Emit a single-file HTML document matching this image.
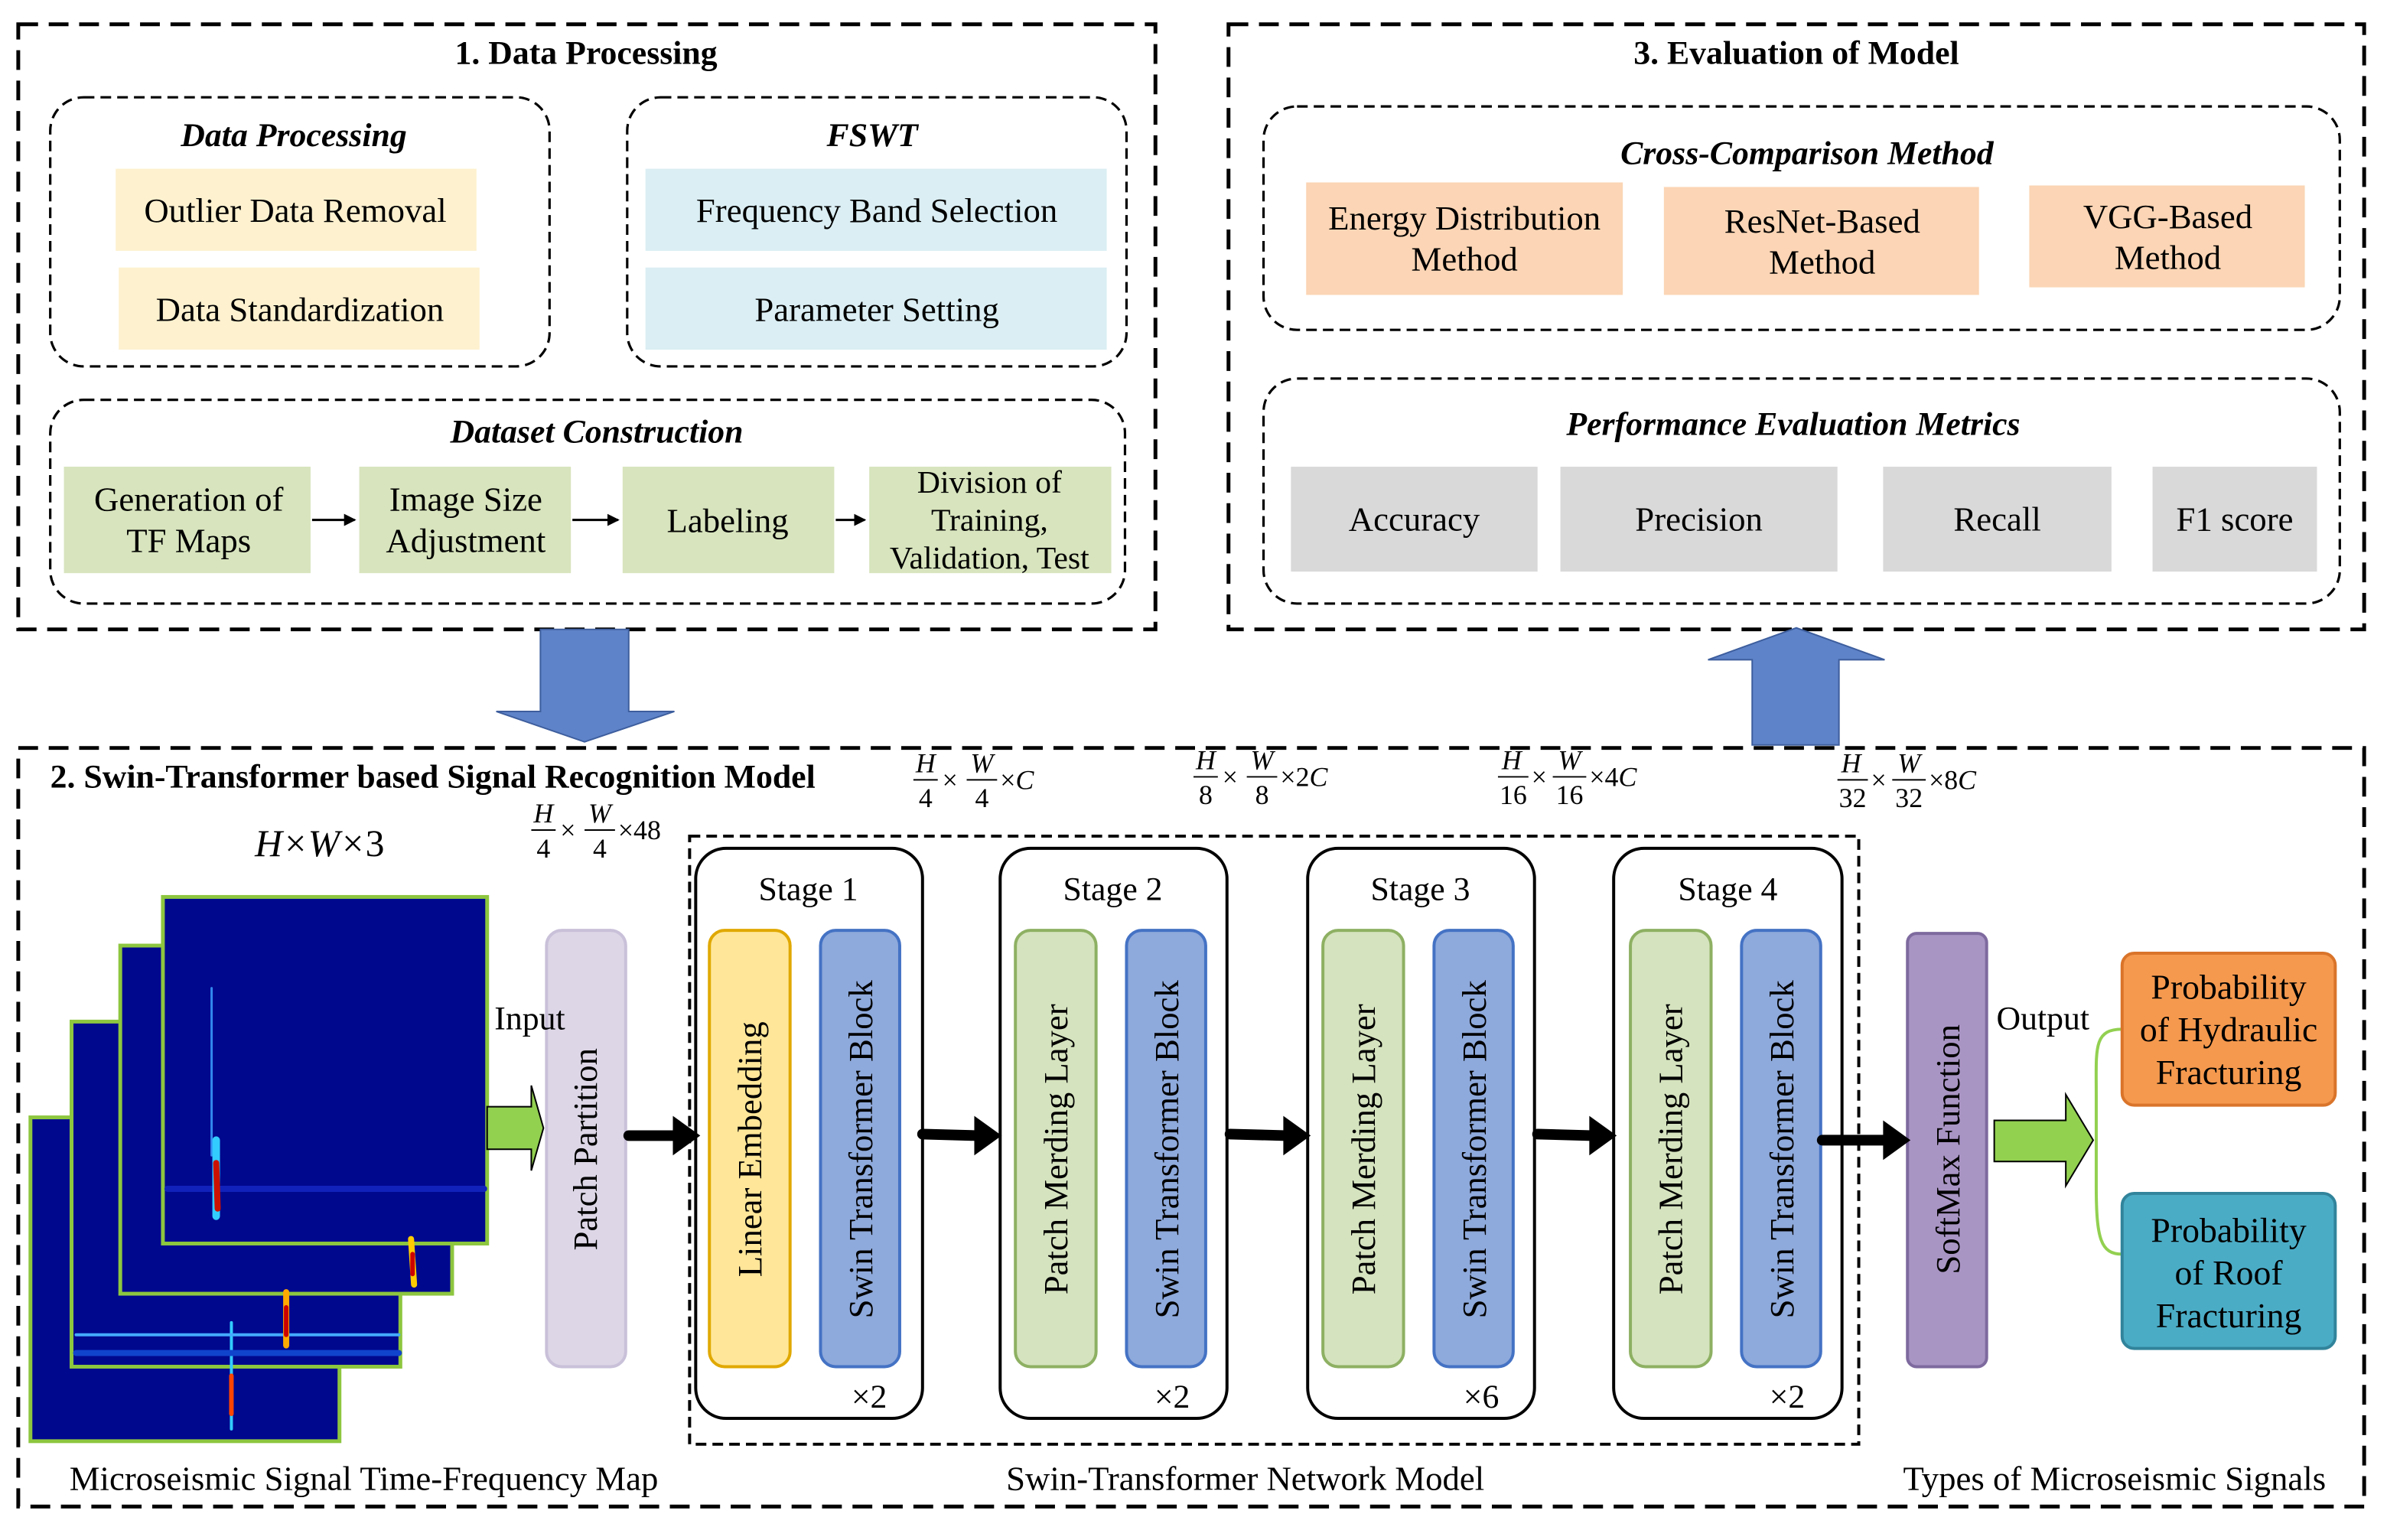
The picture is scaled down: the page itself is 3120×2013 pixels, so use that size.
<!DOCTYPE html>
<html><head><meta charset="utf-8"><style>html,body{margin:0;padding:0;background:#fff}svg{display:block}</style></head><body>
<svg width="3120" height="2013" viewBox="0 0 1568 1013" preserveAspectRatio="none" xmlns="http://www.w3.org/2000/svg" font-family="Liberation Serif, serif">
<defs>
<marker id="sa" markerWidth="8" markerHeight="8" refX="7" refY="4" orient="auto" markerUnits="userSpaceOnUse"><path d="M0,0 L8,4 L0,8 Z" fill="#000"/></marker>
</defs>
<g fill="none" stroke="#000" stroke-width="2.5" stroke-dasharray="13 7">
<rect x="12" y="16" width="747" height="398"/>
<rect x="807" y="16" width="746" height="398"/>
<rect x="12" y="492" width="1541" height="499"/>
</g>
<g fill="none" stroke="#000" stroke-width="1.6" stroke-dasharray="7 4">
<rect x="33" y="64" width="328" height="177" rx="22"/>
<rect x="412" y="64" width="328" height="177" rx="22"/>
<rect x="33" y="263" width="706" height="134" rx="22"/>
<rect x="830" y="70" width="707" height="147" rx="22"/>
<rect x="830" y="249" width="707" height="148" rx="22"/>
<rect x="453" y="550" width="768" height="400" stroke-width="2"/>
</g>
<g font-size="22" font-weight="bold" text-anchor="middle">
<text x="385" y="42">1.  Data Processing</text>
<text x="1180" y="42">3. Evaluation of Model</text>
<text x="33" y="518" text-anchor="start">2. Swin-Transformer based Signal Recognition Model</text>
</g>
<g font-size="22" font-weight="bold" font-style="italic" text-anchor="middle">
<text x="193" y="96">Data Processing</text>
<text x="573" y="96">FSWT</text>
<text x="392" y="291">Dataset Construction</text>
<text x="1187" y="108">Cross-Comparison Method</text>
<text x="1178" y="286">Performance Evaluation Metrics</text>
</g>
<g font-size="22.5" text-anchor="middle" fill="#000">
<rect x="76" y="111" width="237" height="54" fill="#FDF1CF"/><text x="194" y="146">Outlier Data Removal</text>
<rect x="78" y="176" width="237" height="54" fill="#FDF1CF"/><text x="197" y="211">Data Standardization</text>
<rect x="424" y="111" width="303" height="54" fill="#DAEEF3"/><text x="576" y="146">Frequency Band Selection</text>
<rect x="424" y="176" width="303" height="54" fill="#DAEEF3"/><text x="576" y="211">Parameter Setting</text>
<rect x="42" y="307" width="162" height="70" fill="#D7E4BD"/><text x="124" y="336">Generation of</text><text x="124" y="363">TF Maps</text>
<rect x="236" y="307" width="139" height="70" fill="#D7E4BD"/><text x="306" y="336">Image Size</text><text x="306" y="363">Adjustment</text>
<rect x="409" y="307" width="139" height="70" fill="#D7E4BD"/><text x="478" y="350">Labeling</text>
<rect x="571" y="307" width="159" height="70" fill="#D7E4BD"/><text x="650" y="324" font-size="21">Division of</text><text x="650" y="349" font-size="21">Training,</text><text x="650" y="374" font-size="21">Validation, Test</text>
<rect x="858" y="120" width="208" height="74" fill="#FBD5B5"/><text x="962" y="151">Energy Distribution</text><text x="962" y="178">Method</text>
<rect x="1093" y="123" width="207" height="71" fill="#FBD5B5"/><text x="1197" y="153">ResNet-Based</text><text x="1197" y="180">Method</text>
<rect x="1333" y="122" width="181" height="67" fill="#FBD5B5"/><text x="1424" y="150">VGG-Based</text><text x="1424" y="177">Method</text>
<rect x="848" y="307" width="162" height="69" fill="#D9D9D9"/><text x="929" y="349">Accuracy</text>
<rect x="1025" y="307" width="182" height="69" fill="#D9D9D9"/><text x="1116" y="349">Precision</text>
<rect x="1237" y="307" width="150" height="69" fill="#D9D9D9"/><text x="1312" y="349">Recall</text>
<rect x="1414" y="307" width="108" height="69" fill="#D9D9D9"/><text x="1468" y="349">F1 score</text>
</g>
<g stroke="#000" stroke-width="1.5">
<line x1="205" y1="342" x2="233" y2="342" marker-end="url(#sa)"/>
<line x1="376" y1="342" x2="406" y2="342" marker-end="url(#sa)"/>
<line x1="549" y1="342" x2="568" y2="342" marker-end="url(#sa)"/>
</g>
<path d="M355,414 L413,414 L413,468 L443,468 L384,488 L326,468 L355,468 Z" fill="#5F83C8" stroke="#3D5E9E" stroke-width="1"/>
<path d="M1151,490 L1208,490 L1208,434 L1238,434 L1180,413 L1122,434 L1151,434 Z" fill="#5F83C8" stroke="#3D5E9E" stroke-width="1"/>
<g stroke="#8DC63F" stroke-width="2.5" fill="#00088E">
<rect x="20" y="735" width="203" height="213"/>
<rect x="47" y="672" width="216" height="227"/>
<rect x="79" y="622" width="218" height="229"/>
<rect x="107" y="590" width="213" height="228"/>
</g>
<g fill="none" stroke-linecap="round">
<path d="M152,870 L152,940" stroke="#3cf" stroke-width="2"/><path d="M152,905 L152,930" stroke="#f40" stroke-width="3"/>
<path d="M50,878 L262,878" stroke="#4af" stroke-width="2"/><path d="M188,850 L188,885" stroke="#fa0" stroke-width="4"/><path d="M188,860 L188,878" stroke="#c00" stroke-width="3"/>
<path d="M50,890 L262,890" stroke="#14c" stroke-width="4"/>
<path d="M270,815 L272,845" stroke="#fc0" stroke-width="4"/><path d="M271,825 L271,838" stroke="#c00" stroke-width="3"/>
<path d="M110,782 L318,782" stroke="#12b" stroke-width="4"/>
<path d="M139,650 L139,760" stroke="#38e" stroke-width="1.5"/><path d="M142,750 L142,800" stroke="#3cf" stroke-width="5"/><path d="M142,765 L143,795" stroke="#c10" stroke-width="4"/>
</g>
<path d="M320,728 L349,728 L349,714 L357,742 L349,770 L349,756 L320,756 Z" fill="#92D050" stroke="#000" stroke-width="1"/>
<path d="M1310,737 L1357,737 L1357,720 L1375,750 L1357,780 L1357,764 L1310,764 Z" fill="#92D050" stroke="#000" stroke-width="1"/>
<rect x="359" y="612" width="52" height="287" rx="10" fill="#DCD6E6" stroke="#C9C0D9" stroke-width="2"/>
<text x="348" y="677" font-size="22" text-anchor="middle">Input</text>
<text x="1342" y="677" font-size="22" text-anchor="middle">Output</text>
<text x="210" y="563" font-size="25" font-style="italic" text-anchor="middle">H×W×<tspan font-style="normal">3</tspan></text>
<text transform="translate(392,756) rotate(-90)" font-size="22.5" text-anchor="middle">Patch Partition</text>
<g fill="#fff" stroke="#000" stroke-width="2">
<rect x="457" y="558" width="149" height="375" rx="20"/>
<rect x="657" y="558" width="149" height="375" rx="20"/>
<rect x="859" y="558" width="149" height="375" rx="20"/>
<rect x="1060" y="558" width="150" height="375" rx="20"/>
</g>
<g font-size="22" text-anchor="middle">
<text x="531" y="592">Stage 1</text><text x="731" y="592">Stage 2</text><text x="933" y="592">Stage 3</text><text x="1135" y="592">Stage 4</text>
<text x="571" y="926">×2</text><text x="770" y="926">×2</text><text x="973" y="926">×6</text><text x="1174" y="926">×2</text>
</g>
<g stroke-width="2">
<rect x="466" y="612" width="53" height="287" rx="10" fill="#FFE699" stroke="#E0A800"/>
<rect x="539" y="612" width="52" height="287" rx="10" fill="#8EA9DB" stroke="#4472C4"/>
<rect x="667" y="612" width="53" height="287" rx="10" fill="#D5E3BE" stroke="#8DB062"/>
<rect x="740" y="612" width="52" height="287" rx="10" fill="#8EA9DB" stroke="#4472C4"/>
<rect x="869" y="612" width="53" height="287" rx="10" fill="#D5E3BE" stroke="#8DB062"/>
<rect x="942" y="612" width="52" height="287" rx="10" fill="#8EA9DB" stroke="#4472C4"/>
<rect x="1071" y="612" width="53" height="287" rx="10" fill="#D5E3BE" stroke="#8DB062"/>
<rect x="1144" y="612" width="52" height="287" rx="10" fill="#8EA9DB" stroke="#4472C4"/>
<rect x="1253" y="614" width="52" height="285" rx="6" fill="#A995C4" stroke="#7E6A9E"/>
</g>
<g font-size="22.5" text-anchor="middle">
<text transform="translate(500,756) rotate(-90)">Linear Embedding</text>
<text transform="translate(573,756) rotate(-90)">Swin Transformer Block</text>
<text transform="translate(701,756) rotate(-90)">Patch Merding Layer</text>
<text transform="translate(774,756) rotate(-90)">Swin Transformer Block</text>
<text transform="translate(903,756) rotate(-90)">Patch Merding Layer</text>
<text transform="translate(976,756) rotate(-90)">Swin Transformer Block</text>
<text transform="translate(1105,756) rotate(-90)">Patch Merding Layer</text>
<text transform="translate(1178,756) rotate(-90)">Swin Transformer Block</text>
<text transform="translate(1287,756) rotate(-90)">SoftMax Function</text>
</g>
<g stroke="#000" stroke-width="7" stroke-linecap="round">
<line x1="413" y1="747" x2="444" y2="747"/><line x1="606" y1="746" x2="642" y2="747"/>
<line x1="808" y1="746" x2="845" y2="747"/><line x1="1010" y1="746" x2="1046" y2="747"/>
<line x1="1197" y1="750" x2="1239" y2="750"/>
</g>
<g fill="#000">
<path d="M442,734 L460,747 L442,760Z"/><path d="M640,734 L658,747 L640,760Z"/>
<path d="M843,734 L861,747 L843,760Z"/><path d="M1044,734 L1062,747 L1044,760Z"/>
<path d="M1237,737 L1255,750 L1237,763Z"/>
</g>
<path d="M1394,677 C1375,677 1377,690 1377,720 L1377,780 C1377,815 1380,825 1394,825" fill="none" stroke="#92D050" stroke-width="2"/>
<rect x="1394" y="627" width="140" height="100" rx="8" fill="#F5994E" stroke="#D9742A" stroke-width="2"/>
<rect x="1394" y="785" width="140" height="102" rx="8" fill="#4BACC6" stroke="#31849B" stroke-width="2"/>
<g font-size="23" text-anchor="middle">
<text x="1464" y="657">Probability</text><text x="1464" y="685">of Hydraulic</text><text x="1464" y="713">Fracturing</text>
<text x="1464" y="817">Probability</text><text x="1464" y="845">of Roof</text><text x="1464" y="873">Fracturing</text>
</g>
<g font-size="22.5" text-anchor="middle">
<text x="239" y="980">Microseismic Signal Time-Frequency Map</text>
<text x="818" y="980">Swin-Transformer Network Model</text>
<text x="1389" y="980">Types of Microseismic Signals</text>
</g>
<g font-size="18" stroke="#000" stroke-width="1">
<g transform="translate(348,543)"><text x="9" y="-2" font-style="italic" text-anchor="middle" stroke="none">H</text><line x1="1" y1="3" x2="17" y2="3"/><text x="9" y="21" text-anchor="middle" stroke="none">4</text><text x="20" y="9" stroke="none">×</text><text x="46" y="-2" font-style="italic" text-anchor="middle" stroke="none">W</text><line x1="36" y1="3" x2="56" y2="3"/><text x="46" y="21" text-anchor="middle" stroke="none">4</text><text x="58" y="9" stroke="none">×48</text></g>
<g transform="translate(599,510)"><text x="9" y="-2" font-style="italic" text-anchor="middle" stroke="none">H</text><line x1="1" y1="3" x2="17" y2="3"/><text x="9" y="21" text-anchor="middle" stroke="none">4</text><text x="20" y="9" stroke="none">×</text><text x="46" y="-2" font-style="italic" text-anchor="middle" stroke="none">W</text><line x1="36" y1="3" x2="56" y2="3"/><text x="46" y="21" text-anchor="middle" stroke="none">4</text><text x="58" y="9" stroke="none">×<tspan font-style="italic">C</tspan></text></g>
<g transform="translate(783,508)"><text x="9" y="-2" font-style="italic" text-anchor="middle" stroke="none">H</text><line x1="1" y1="3" x2="17" y2="3"/><text x="9" y="21" text-anchor="middle" stroke="none">8</text><text x="20" y="9" stroke="none">×</text><text x="46" y="-2" font-style="italic" text-anchor="middle" stroke="none">W</text><line x1="36" y1="3" x2="56" y2="3"/><text x="46" y="21" text-anchor="middle" stroke="none">8</text><text x="58" y="9" stroke="none">×2<tspan font-style="italic">C</tspan></text></g>
<g transform="translate(983,508)"><text x="10" y="-2" font-style="italic" text-anchor="middle" stroke="none">H</text><line x1="1" y1="3" x2="21" y2="3"/><text x="11" y="21" text-anchor="middle" stroke="none">16</text><text x="23" y="9" stroke="none">×</text><text x="48" y="-2" font-style="italic" text-anchor="middle" stroke="none">W</text><line x1="37" y1="3" x2="59" y2="3"/><text x="48" y="21" text-anchor="middle" stroke="none">16</text><text x="61" y="9" stroke="none">×4<tspan font-style="italic">C</tspan></text></g>
<g transform="translate(1206,510)"><text x="10" y="-2" font-style="italic" text-anchor="middle" stroke="none">H</text><line x1="1" y1="3" x2="21" y2="3"/><text x="11" y="21" text-anchor="middle" stroke="none">32</text><text x="23" y="9" stroke="none">×</text><text x="48" y="-2" font-style="italic" text-anchor="middle" stroke="none">W</text><line x1="37" y1="3" x2="59" y2="3"/><text x="48" y="21" text-anchor="middle" stroke="none">32</text><text x="61" y="9" stroke="none">×8<tspan font-style="italic">C</tspan></text></g>
</g>
</svg>
</body></html>
